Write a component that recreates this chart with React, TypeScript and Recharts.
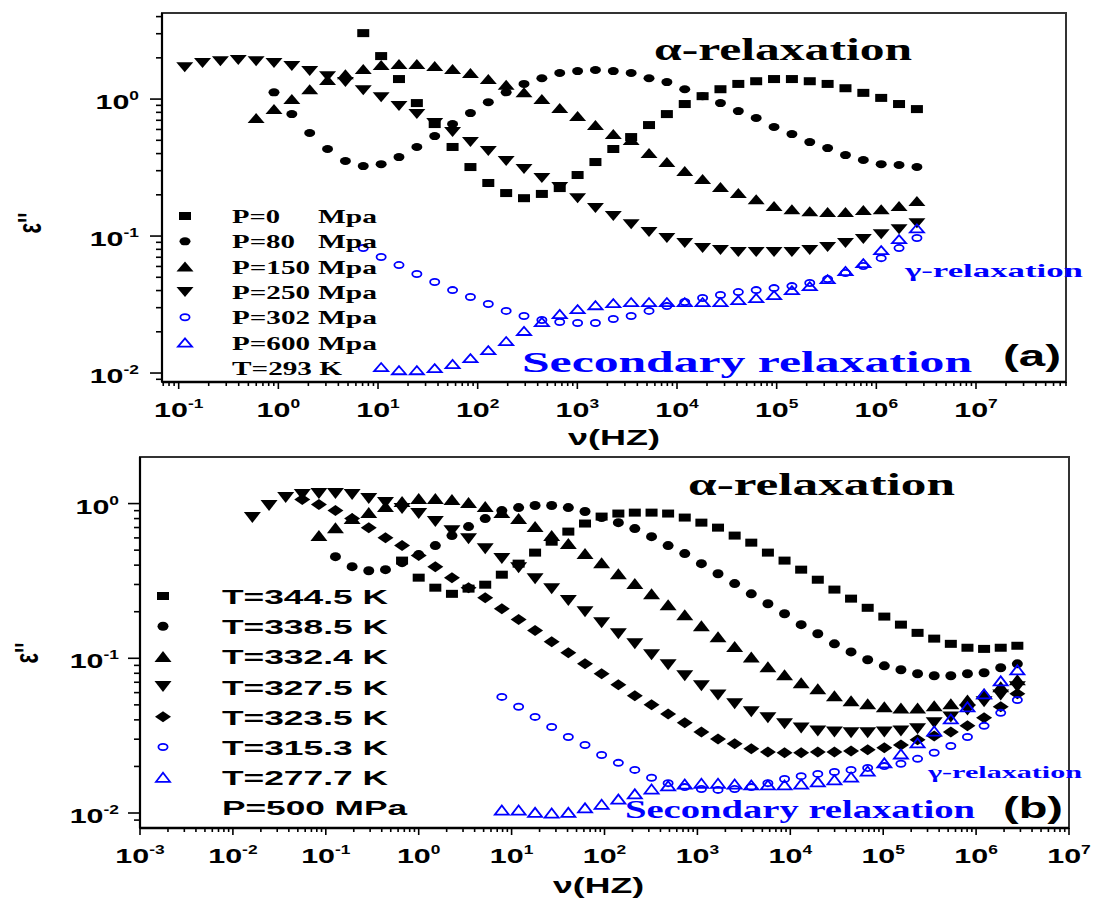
import React from 'react';
import { ScatterChart, Scatter, XAxis, YAxis, ReferenceArea } from 'recharts';

const SERIF = '"Liberation Serif", "Times New Roman", Times, serif';
const SANS = '"Liberation Sans", Arial, Helvetica, sans-serif';
const BLUE = '#0000ff';
const BLACK = '#000000';

// ---------- Panel (a): measurement frequencies (Hz) ----------
const freqA = [0.115, 0.1734, 0.2621, 0.396, 0.598, 0.904, 1.365, 2.063, 3.116, 4.708, 7.11, 10.75, 16.23, 24.53, 37.05, 55.98, 84.6, 127.8, 193.1, 291.6, 440.6, 665.7, 1006, 1519, 2295, 3467, 5239, 7914, 11960, 18060, 27290, 41230, 62290, 94100, 142200, 214800, 324500, 490200, 740600, 1119000, 1690000, 2554000];

// eps'' values; each series starts at the given index of freqA
const p0Start = 10;
const p0 = [3.03, 2.06, 1.40, 0.935, 0.657, 0.447, 0.319, 0.244, 0.206, 0.189, 0.203, 0.224, 0.279, 0.347, 0.432, 0.528, 0.646, 0.777, 0.92, 1.05, 1.18, 1.29, 1.35, 1.40, 1.40, 1.35, 1.29, 1.20, 1.11, 1.02, 0.92, 0.845];
const p80Start = 5;
const p80 = [1.12, 0.777, 0.565, 0.432, 0.353, 0.324, 0.335, 0.377, 0.447, 0.537, 0.657, 0.79, 0.95, 1.12, 1.29, 1.42, 1.55, 1.60, 1.63, 1.60, 1.55, 1.42, 1.33, 1.18, 1.05, 0.935, 0.817, 0.727, 0.625, 0.555, 0.485, 0.439, 0.390, 0.359, 0.335, 0.330, 0.319];
const p150Start = 4;
const p150 = [0.727, 0.845, 1.00, 1.18, 1.38, 1.52, 1.66, 1.77, 1.80, 1.80, 1.74, 1.66, 1.55, 1.40, 1.27, 1.12, 1.00, 0.86, 0.751, 0.646, 0.555, 0.502, 0.404, 0.347, 0.298, 0.261, 0.228, 0.206, 0.186, 0.166, 0.157, 0.152, 0.150, 0.150, 0.155, 0.157, 0.166, 0.180];
const p250Start = 0;
const p250 = [1.71, 1.83, 1.89, 1.93, 1.89, 1.83, 1.74, 1.60, 1.47, 1.33, 1.16, 1.03, 0.89, 0.777, 0.668, 0.574, 0.485, 0.417, 0.353, 0.309, 0.265, 0.228, 0.189, 0.160, 0.140, 0.122, 0.107, 0.0967, 0.0889, 0.0817, 0.079, 0.0764, 0.0764, 0.0764, 0.0764, 0.079, 0.0832, 0.0889, 0.095, 0.103, 0.112, 0.124];
const p302Start = 10;
const p302 = [0.0817, 0.0703, 0.0614, 0.0528, 0.0462, 0.0403, 0.0359, 0.0319, 0.0284, 0.0261, 0.0244, 0.0236, 0.0232, 0.0232, 0.0248, 0.0261, 0.0284, 0.0308, 0.033, 0.0353, 0.0371, 0.039, 0.0403, 0.0417, 0.0431, 0.0454, 0.0485, 0.0537, 0.0604, 0.069, 0.0817, 0.0967];
const p600Start = 11;
const p600 = [0.01106, 0.0105, 0.0105, 0.01087, 0.01164, 0.01286, 0.01471, 0.01713, 0.0203, 0.0236, 0.027, 0.0293, 0.0313, 0.0324, 0.033, 0.033, 0.033, 0.033, 0.033, 0.033, 0.0341, 0.0353, 0.0371, 0.0403, 0.0431, 0.0485, 0.0556, 0.0635, 0.079, 0.095, 0.114];

// ---------- Panel (b): measurement frequencies (Hz) ----------
const freqB = [0.0162, 0.0245, 0.0370, 0.0558, 0.0843, 0.127, 0.192, 0.290, 0.439, 0.662, 1.0, 1.51, 2.28, 3.44, 5.20, 7.85, 11.9, 17.9, 27.0, 40.8, 61.7, 93.1, 141, 212, 321, 484, 731, 1104, 1667, 2518, 3802, 5741, 8670, 13090, 19770, 29850, 45080, 68080, 102800, 155200, 234400, 354000, 534600, 807200, 1219000, 1841000, 2780000];

const t3445Start = 9;
const t3445 = [0.428, 0.332, 0.286, 0.261, 0.282, 0.299, 0.347, 0.409, 0.482, 0.567, 0.659, 0.743, 0.824, 0.862, 0.874, 0.874, 0.862, 0.812, 0.753, 0.699, 0.621, 0.559, 0.482, 0.428, 0.374, 0.322, 0.278, 0.243, 0.212, 0.186, 0.165, 0.146, 0.134, 0.124, 0.117, 0.115, 0.117, 0.1205];
const t3385Start = 5;
const t3385 = [0.454, 0.391, 0.368, 0.374, 0.415, 0.468, 0.535, 0.621, 0.710, 0.800, 0.901, 0.942, 0.971, 0.971, 0.942, 0.888, 0.812, 0.753, 0.689, 0.611, 0.535, 0.475, 0.409, 0.352, 0.304, 0.261, 0.225, 0.194, 0.165, 0.144, 0.124, 0.110, 0.0978, 0.0894, 0.0843, 0.0794, 0.0771, 0.0771, 0.0794, 0.0806, 0.0868, 0.0921];
const t3324Start = 4;
const t3324 = [0.621, 0.699, 0.800, 0.874, 0.956, 1.030, 1.077, 1.077, 1.061, 1.015, 0.956, 0.874, 0.800, 0.710, 0.621, 0.551, 0.475, 0.415, 0.352, 0.304, 0.261, 0.222, 0.191, 0.162, 0.138, 0.119, 0.102, 0.0881, 0.0782, 0.0694, 0.0635, 0.0572, 0.0531, 0.0508, 0.0486, 0.0478, 0.0478, 0.0493, 0.0508, 0.0538, 0.0589, 0.0654, 0.0726];
const t3275Start = 0;
const t3275 = [0.812, 0.971, 1.093, 1.144, 1.16, 1.16, 1.144, 1.077, 1.015, 0.928, 0.862, 0.765, 0.668, 0.593, 0.511, 0.441, 0.385, 0.327, 0.282, 0.236, 0.200, 0.170, 0.144, 0.124, 0.1054, 0.0908, 0.0771, 0.0664, 0.058, 0.0508, 0.0451, 0.0412, 0.0377, 0.0355, 0.0339, 0.0334, 0.033, 0.033, 0.0334, 0.0339, 0.035, 0.0383, 0.0418, 0.0464, 0.0523, 0.058, 0.0654];
const t3235Start = 3;
const t3235 = [1.061, 0.985, 0.901, 0.800, 0.699, 0.602, 0.535, 0.461, 0.391, 0.332, 0.286, 0.246, 0.209, 0.178, 0.151, 0.128, 0.1086, 0.0921, 0.0794, 0.0674, 0.0572, 0.050, 0.0437, 0.0383, 0.0334, 0.0301, 0.028, 0.026, 0.0248, 0.0245, 0.0245, 0.0248, 0.0248, 0.0252, 0.0256, 0.0264, 0.0275, 0.0297, 0.0315, 0.0334, 0.0366, 0.0412, 0.0486, 0.0589];
const t3153Start = 15;
const t3153 = [0.0563, 0.0486, 0.0418, 0.036, 0.031, 0.0275, 0.0237, 0.0211, 0.019, 0.0169, 0.0156, 0.0147, 0.0143, 0.0141, 0.0143, 0.0147, 0.0156, 0.0166, 0.0173, 0.0179, 0.0184, 0.019, 0.01956, 0.0201, 0.0208, 0.0224, 0.0245, 0.0271, 0.031, 0.0366, 0.0444, 0.0538];
const t2777Start = 15;
const t2777 = [0.01045, 0.01045, 0.0101, 0.0100, 0.0101, 0.0108, 0.0114, 0.0123, 0.0133, 0.0143, 0.015, 0.0154, 0.0156, 0.0156, 0.0154, 0.0152, 0.0152, 0.0152, 0.0154, 0.0159, 0.0164, 0.0171, 0.0187, 0.0211, 0.0241, 0.0284, 0.0339, 0.0406, 0.0486, 0.0589, 0.0715, 0.0843];

// legend / tick texts
const legendA = ['P=0', 'P=80', 'P=150', 'P=250', 'P=302', 'P=600'];
const legendAUnit = 'Mpa';
const legendANote = 'T=293 K';
const legendB = ['T=344.5 K', 'T=338.5 K', 'T=332.4 K', 'T=327.5 K', 'T=323.5 K', 'T=315.3 K', 'T=277.7 K'];
const legendBNote = 'P=500 MPa';

type Kind = 'square' | 'circle' | 'tri' | 'tridown' | 'diamond' | 'ocircle' | 'otri';

function Marker({ kind, cx, cy, w, h, color }: { kind: Kind; cx: number; cy: number; w: number; h: number; color: string }) {
  const hw = w / 2;
  const hh = h / 2;
  switch (kind) {
    case 'square':
      return <rect x={cx - hw} y={cy - hh} width={w} height={h} fill={color} />;
    case 'circle':
      return <ellipse cx={cx} cy={cy} rx={hw} ry={hh} fill={color} />;
    case 'tri':
      return <polygon points={`${cx - hw},${cy + hh} ${cx + hw},${cy + hh} ${cx},${cy - hh}`} fill={color} />;
    case 'tridown':
      return <polygon points={`${cx - hw},${cy - hh} ${cx + hw},${cy - hh} ${cx},${cy + hh}`} fill={color} />;
    case 'diamond':
      return <polygon points={`${cx - hw},${cy} ${cx},${cy - hh} ${cx + hw},${cy} ${cx},${cy + hh}`} fill={color} />;
    case 'ocircle':
      return <ellipse cx={cx} cy={cy} rx={hw - 0.9} ry={hh - 0.9} fill="none" stroke={color} strokeWidth={1.8} />;
    case 'otri':
      return (
        <polygon
          points={`${cx - hw + 1},${cy + hh - 0.9} ${cx + hw - 1},${cy + hh - 0.9} ${cx},${cy - hh + 1}`}
          fill="none"
          stroke={color}
          strokeWidth={1.8}
        />
      );
    default:
      return null;
  }
}

type SeriesCfg = { name: string; start: number; values: number[]; kind: Kind; color: string; w: number; h: number };

const seriesA: SeriesCfg[] = [
  { name: legendA[0], start: p0Start, values: p0, kind: 'square', color: BLACK, w: 12, h: 8 },
  { name: legendA[1], start: p80Start, values: p80, kind: 'circle', color: BLACK, w: 11, h: 8 },
  { name: legendA[2], start: p150Start, values: p150, kind: 'tri', color: BLACK, w: 17, h: 10 },
  { name: legendA[3], start: p250Start, values: p250, kind: 'tridown', color: BLACK, w: 17, h: 10 },
  { name: legendA[4], start: p302Start, values: p302, kind: 'ocircle', color: BLUE, w: 11, h: 8 },
  { name: legendA[5], start: p600Start, values: p600, kind: 'otri', color: BLUE, w: 16, h: 10 },
];

const seriesB: SeriesCfg[] = [
  { name: legendB[0], start: t3445Start, values: t3445, kind: 'square', color: BLACK, w: 12, h: 8 },
  { name: legendB[1], start: t3385Start, values: t3385, kind: 'circle', color: BLACK, w: 11, h: 9 },
  { name: legendB[2], start: t3324Start, values: t3324, kind: 'tri', color: BLACK, w: 17, h: 11 },
  { name: legendB[3], start: t3275Start, values: t3275, kind: 'tridown', color: BLACK, w: 17, h: 11 },
  { name: legendB[4], start: t3235Start, values: t3235, kind: 'diamond', color: BLACK, w: 16, h: 11 },
  { name: legendB[5], start: t3153Start, values: t3153, kind: 'ocircle', color: BLUE, w: 11, h: 8 },
  { name: legendB[6], start: t2777Start, values: t2777, kind: 'otri', color: BLUE, w: 16, h: 11 },
];

const toPoints = (freq: number[], s: SeriesCfg) => s.values.map((v, j) => ({ f: freq[s.start + j], e: v }));

const MANT = [1, 2, 3, 4, 5, 6, 7, 8, 9];
function logTicks(minExp: number, maxExp: number, lo: number, hi: number) {
  const out: number[] = [];
  for (let e = minExp; e <= maxExp; e++) {
    for (const m of MANT) {
      const v = Number((m * Math.pow(10, e)).toPrecision(6));
      if (v >= lo && v <= hi) out.push(v);
    }
  }
  return out;
}

const isMajor = (v: number) => {
  const lg = Math.log10(v);
  return Math.abs(lg - Math.round(lg)) < 1e-6;
};

const Pow10 = ({ e, anchor }: { e: number; anchor: 'middle' | 'end' }) => (
  <text x={0} y={0} textAnchor={anchor} fontFamily={SANS} fontWeight="bold" fontSize={21} fill="#000">
    10
    <tspan dy={-9} fontSize={12}>
      {e}
    </tspan>
  </text>
);

const XTick = (props: any) => {
  const { x, y, payload } = props;
  const v = payload.value;
  const major = isMajor(v);
  const e = Math.round(Math.log10(v));
  return (
    <g>
      <line x1={x} y1={y} x2={x} y2={y + (major ? 7 : 4)} stroke="#000" strokeWidth={1.6} />
      {major && (
        <g transform={`translate(${x},${y + 35}) scale(1.45,1)`}>
          <Pow10 e={e} anchor="middle" />
        </g>
      )}
    </g>
  );
};

const makeYTick = (gap: number) => (props: any) => {
  const { x, y, payload } = props;
  const v = payload.value;
  const major = isMajor(v);
  const e = Math.round(Math.log10(v));
  return (
    <g>
      <line x1={x} y1={y} x2={x - (major ? 12 : 6)} y2={y} stroke="#000" strokeWidth={1.6} />
      {major && (
        <g transform={`translate(${x - gap},${y + 10}) scale(1.45,1)`}>
          <Pow10 e={e} anchor="end" />
        </g>
      )}
    </g>
  );
};

const domXA: [number, number] = [0.068, 8e7];
const domYA: [number, number] = [0.0086, 4.25];
const domXB: [number, number] = [1e-3, 1e7];
const domYB: [number, number] = [0.008, 2];

const ticksXA = logTicks(-2, 7, domXA[0], domXA[1]);
const ticksYA = logTicks(-3, 0, domYA[0], domYA[1]);
const ticksXB = logTicks(-3, 7, domXB[0], domXB[1]);
const ticksYB = logTicks(-3, 0, 0.0085, 1.5);

const BoldText = ({ x, y, w, size, fam, color = '#000', children }: any) => (
  <text x={x} y={y} fontSize={size} fontFamily={fam} fontWeight="bold" fill={color} textLength={w} lengthAdjust="spacingAndGlyphs">
    {children}
  </text>
);

function Panel({ series, freq, domX, domY, ticksX, ticksY, top, height, mTop, mRight, yW, xH, yGap }: any) {
  return (
    <div style={{ position: 'absolute', left: 0, top, width: 1110, height }}>
      <ScatterChart width={1110} height={height} margin={{ top: mTop, right: mRight, bottom: 0, left: 0 }}>
        <XAxis
          type="number"
          dataKey="f"
          scale="log"
          domain={domX}
          allowDataOverflow
          ticks={ticksX}
          interval={0}
          tickLine={false}
          tickSize={0}
          tickMargin={0}
          tick={XTick}
          axisLine={{ stroke: '#000', strokeWidth: 2.5 }}
          height={xH}
        />
        <YAxis
          type="number"
          dataKey="e"
          scale="log"
          domain={domY}
          allowDataOverflow
          ticks={ticksY}
          interval={0}
          tickLine={false}
          tickSize={0}
          tickMargin={0}
          tick={makeYTick(yGap)}
          axisLine={{ stroke: '#000', strokeWidth: 2.2 }}
          width={yW}
        />
        <ReferenceArea
          x1={domX[0]}
          x2={domX[1]}
          y1={domY[0]}
          y2={domY[1]}
          fill="none"
          stroke="#333"
          strokeWidth={2}
          ifOverflow="visible"
        />
        {series.map((s: SeriesCfg) => (
          <Scatter
            key={s.name}
            name={s.name}
            data={toPoints(freq, s)}
            isAnimationActive={false}
            shape={(p: any) => <Marker kind={s.kind} cx={p.cx} cy={p.cy} w={s.w} h={s.h} color={s.color} />}
          />
        ))}
      </ScatterChart>
    </div>
  );
}

export default function App() {
  return (
    <div style={{ position: 'absolute', left: 0, top: 0, width: 1110, height: 898, background: '#fff' }}>
      <Panel
        series={seriesA}
        freq={freqA}
        domX={domXA}
        domY={domYA}
        ticksX={ticksXA}
        ticksY={ticksYA}
        top={0}
        height={450}
        mTop={13}
        mRight={44}
        yW={162}
        xH={68}
        yGap={23}
      />
      <Panel
        series={seriesB}
        freq={freqB}
        domX={domXB}
        domY={domYB}
        ticksX={ticksXB}
        ticksY={ticksYB}
        top={450}
        height={448}
        mTop={7}
        mRight={41}
        yW={140}
        xH={70}
        yGap={21}
      />
      <svg width={1110} height={898} style={{ position: 'absolute', left: 0, top: 0, pointerEvents: 'none' }}>
        {/* Panel (a) annotations */}
        <BoldText x={654} y={60} w={258} size={32} fam={SERIF}>α-relaxation</BoldText>
        <BoldText x={905} y={277} w={178} size={19} fam={SERIF} color={BLUE}>γ-relaxation</BoldText>
        <BoldText x={522} y={372} w={450} size={30} fam={SERIF} color={BLUE}>Secondary relaxation</BoldText>
        <BoldText x={1003} y={366} w={58} size={30} fam={SANS}>(a)</BoldText>
        <BoldText x={568} y={445} w={92} size={22} fam={SANS}>ν(HZ)</BoldText>
        <g transform="translate(30,223) scale(1.5,1) rotate(-90)">
          <text x={0} y={0} textAnchor="middle" dominantBaseline="central" fontFamily={SANS} fontWeight="bold" fontSize={22}>ε''</text>
        </g>
        {seriesA.map((s, i) => {
          const yc = 216 + 25.3 * i;
          return (
            <g key={s.name}>
              <Marker kind={s.kind} cx={185} cy={yc} w={s.w} h={s.h} color={s.color} />
              <BoldText x={232} y={yc + 7} w={[48, 63, 78, 78, 78, 78][i]} size={19} fam={SERIF}>{s.name}</BoldText>
              <BoldText x={318} y={yc + 7} w={59} size={19} fam={SERIF}>{legendAUnit}</BoldText>
            </g>
          );
        })}
        <BoldText x={232} y={216 + 25.3 * 6 + 7} w={110} size={19} fam={SERIF}>{legendANote}</BoldText>

        {/* Panel (b) annotations */}
        <BoldText x={688} y={495} w={267} size={32} fam={SERIF}>α-relaxation</BoldText>
        <BoldText x={928} y={778} w={154} size={17} fam={SERIF} color={BLUE}>γ-relaxation</BoldText>
        <BoldText x={625} y={818} w={350} size={26} fam={SERIF} color={BLUE}>Secondary relaxation</BoldText>
        <BoldText x={1003} y={818} w={60} size={30} fam={SANS}>(b)</BoldText>
        <BoldText x={553} y={893} w={91} size={22} fam={SANS}>ν(HZ)</BoldText>
        <g transform="translate(27,653) scale(1.5,1) rotate(-90)">
          <text x={0} y={0} textAnchor="middle" dominantBaseline="central" fontFamily={SANS} fontWeight="bold" fontSize={22}>ε''</text>
        </g>
        {seriesB.map((s, i) => {
          const yc = 596 + 30.2 * i;
          return (
            <g key={s.name}>
              <Marker kind={s.kind} cx={163} cy={yc} w={s.w} h={s.h} color={s.color} />
              <BoldText x={222} y={yc + 8} w={166} size={21} fam={SANS}>{s.name}</BoldText>
            </g>
          );
        })}
        <BoldText x={222} y={596 + 30.2 * 7 + 8} w={185} size={21} fam={SANS}>{legendBNote}</BoldText>
      </svg>
    </div>
  );
}
